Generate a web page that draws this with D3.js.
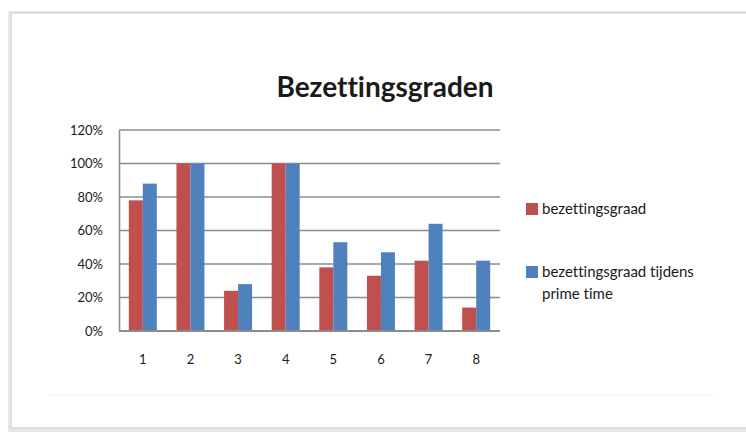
<!DOCTYPE html>
<html>
<head>
<meta charset="utf-8">
<script src="https://cdn.jsdelivr.net/npm/d3@7"></script>
<style>
  body { margin: 0; background: #fff; }
  text { font-family: Lato, "Open Sans", sans-serif; fill: #1a1a1a; font-variant-ligatures: none; }
</style>
</head>
<body>
<div id="chart"></div>
<script>
// Chart data
const categories = ["1", "2", "3", "4", "5", "6", "7", "8"];
const bezetting = [0.78, 1.0, 0.24, 1.0, 0.38, 0.33, 0.42, 0.14];
const primeTime = [0.88, 1.0, 0.28, 1.0, 0.53, 0.47, 0.64, 0.42];
const yTicks = [0, 0.2, 0.4, 0.6, 0.8, 1.0, 1.2];
const seriesNames = ["bezettingsgraad", "bezettingsgraad tijdens prime time"];

const width = 746;
const height = 432;
const plot = { left: 119, right: 500, top: 130, bottom: 331 };

const color = d3.scaleOrdinal().domain(seriesNames).range(["#c0504d", "#4f81bd"]);

const svg = d3.select("#chart").append("svg")
  .attr("width", width)
  .attr("height", height);

// Frame with a soft shadow
svg.append("rect")
  .attr("x", 8).attr("y", 11).attr("width", 740).attr("height", 421)
  .attr("fill", "#e8e8e8");
svg.append("rect")
  .attr("x", 11).attr("y", 13).attr("width", 737).attr("height", 415)
  .attr("fill", "#fff")
  .attr("stroke", "#c8c8c8");
svg.append("line")
  .attr("x1", 50).attr("x2", 716).attr("y1", 395).attr("y2", 395)
  .attr("stroke", "#f2f2f2");

// Scales
const x = d3.scaleBand().domain(categories).range([plot.left, plot.right]);
const y = d3.scaleLinear().domain([0, 1.2]).range([plot.bottom, plot.top]);
const barW = 14;

// Gridlines
svg.append("g")
  .selectAll("line")
  .data(yTicks)
  .join("line")
  .attr("x1", plot.left).attr("x2", plot.right)
  .attr("y1", (d) => y(d)).attr("y2", (d) => y(d))
  .attr("stroke", "#8c8c8c")
  .attr("stroke-width", 1.6);

// Y axis labels
const yAxis = d3.axisLeft(y).tickValues(yTicks).tickFormat(d3.format(".0%")).tickSize(0).tickPadding(16);
svg.append("g")
  .attr("transform", `translate(${plot.left},0)`)
  .call(yAxis)
  .call((g) => g.select(".domain").attr("stroke", "#8c8c8c").attr("stroke-width", 1.6))
  .call((g) => g.selectAll("text").style("font-size", "13px").attr("fill", "#1a1a1a").attr("font-family", "Lato, sans-serif"));

// Bars
const groups = [bezetting, primeTime];
groups.forEach((values, s) => {
  svg.append("g")
    .selectAll("rect")
    .data(values)
    .join("rect")
    .attr("x", (d, i) => x(categories[i]) + x.bandwidth() / 2 - barW + s * barW)
    .attr("y", (d) => y(d))
    .attr("width", barW)
    .attr("height", (d) => y(0) - y(d))
    .attr("fill", color(seriesNames[s]));
});

// Bottom axis line
svg.append("line")
  .attr("x1", plot.left).attr("x2", plot.right)
  .attr("y1", y(0)).attr("y2", y(0))
  .attr("stroke", "#8c8c8c").attr("stroke-width", 2);

// X axis labels
const xAxis = d3.axisBottom(x).tickSize(0).tickPadding(24);
svg.append("g")
  .attr("transform", `translate(0,${plot.bottom})`)
  .call(xAxis)
  .call((g) => g.select(".domain").remove())
  .call((g) => g.selectAll("text").style("font-size", "13px").attr("fill", "#1a1a1a").attr("font-family", "Lato, sans-serif"));

// Title
svg.append("text")
  .attr("x", 385).attr("y", 97)
  .attr("text-anchor", "middle")
  .style("font-size", "28px")
  .style("font-weight", "bold")
  .text("Bezettingsgraden");

// Legend
const legend = svg.append("g").attr("transform", "translate(526,0)");
legend.append("rect").attr("x", 0).attr("y", 203).attr("width", 12).attr("height", 12).attr("fill", color(seriesNames[0]));
legend.append("text").attr("x", 16).attr("y", 214).style("font-size", "15px").text("bezettingsgraad");
legend.append("rect").attr("x", 0).attr("y", 266).attr("width", 12).attr("height", 12).attr("fill", color(seriesNames[1]));
legend.append("text").attr("x", 16).attr("y", 277).style("font-size", "15px").text("bezettingsgraad tijdens");
legend.append("text").attr("x", 16).attr("y", 299).style("font-size", "15px").text("prime time");
</script>
</body>
</html>
